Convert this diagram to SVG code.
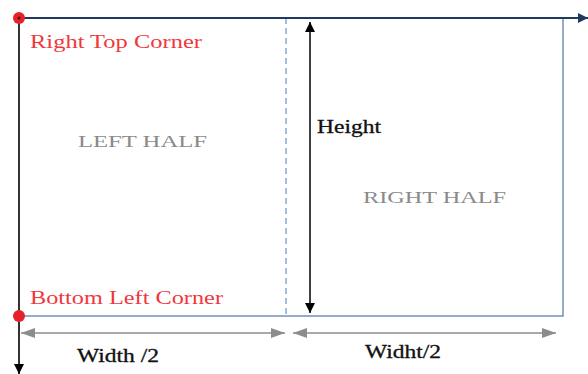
<svg xmlns="http://www.w3.org/2000/svg" width="588" height="374" viewBox="0 0 588 374">
  <defs>
    <marker id="navyHead" viewBox="0 0 10 10" refX="10" refY="5" markerWidth="10" markerHeight="10" markerUnits="userSpaceOnUse" orient="auto">
      <path d="M0,0 L10,5 L0,10 z" fill="#1f3a5f"/>
    </marker>
    <marker id="blackHead" viewBox="0 0 10 10" refX="10" refY="5" markerWidth="10" markerHeight="10" markerUnits="userSpaceOnUse" orient="auto-start-reverse">
      <path d="M0,0 L10,5 L0,10 z" fill="#000"/>
    </marker>
    <marker id="grayHead" viewBox="0 0 14 10" refX="14" refY="5" markerWidth="14" markerHeight="10" markerUnits="userSpaceOnUse" orient="auto-start-reverse">
      <path d="M0,0 L14,5 L0,10 z" fill="#8c8c8c"/>
    </marker>
  </defs>
  <style>
    .red { fill: #f0383c; font-size: 18px; }
    .half { fill: #8a8a8a; font-size: 16px; }
    .dim { fill: #111; font-size: 18px; stroke: #111; stroke-width: 0.3; }
  </style>

  <rect width="588" height="374" fill="#fff"/>

  <!-- frame -->
  <g id="frame">
    <rect x="19" y="18" width="544" height="298" fill="none" stroke="#5b7fae" stroke-width="1.3"/>
    <line x1="286" y1="18" x2="286" y2="316" stroke="#6f9bd3" stroke-width="1.3" stroke-dasharray="6,4"/>
  </g>

  <g id="connectors">
    <!-- axes -->
    <line x1="19" y1="18" x2="588" y2="18" stroke="#1f3a5f" stroke-width="2" marker-end="url(#navyHead)"/>
    <line x1="19" y1="18" x2="19" y2="374" stroke="#333" stroke-width="2" marker-end="url(#blackHead)"/>
    <!-- height -->
    <line x1="310" y1="22" x2="310" y2="313" stroke="#000" stroke-width="1.5" marker-start="url(#blackHead)" marker-end="url(#blackHead)"/>
    <!-- half widths -->
    <line x1="21" y1="333" x2="285" y2="333" stroke="#8c8c8c" stroke-width="1.5" marker-start="url(#grayHead)" marker-end="url(#grayHead)"/>
    <line x1="293" y1="333" x2="556" y2="333" stroke="#8c8c8c" stroke-width="1.5" marker-start="url(#grayHead)" marker-end="url(#grayHead)"/>
  </g>

  <g font-family="'Liberation Serif', 'DejaVu Serif', serif">
    <g id="corner-top">
      <circle cx="19" cy="18" r="6" fill="#e8202a"/>
      <circle cx="19" cy="18" r="1.5" fill="#3a1a1a"/>
      <text class="red" x="30" y="48" textLength="172" lengthAdjust="spacingAndGlyphs">Right Top Corner</text>
    </g>

    <g id="corner-bottom">
      <circle cx="19" cy="316" r="6" fill="#e8202a"/>
      <text class="red" x="30" y="304" textLength="193" lengthAdjust="spacingAndGlyphs">Bottom Left Corner</text>
    </g>

    <g id="left-half">
      <text class="half" x="78" y="147" textLength="129" lengthAdjust="spacingAndGlyphs">LEFT HALF</text>
    </g>

    <g id="right-half">
      <text class="half" x="363" y="203" textLength="143" lengthAdjust="spacingAndGlyphs">RIGHT HALF</text>
    </g>

    <g id="height-label">
      <text class="dim" x="317" y="133" textLength="64" lengthAdjust="spacingAndGlyphs">Height</text>
    </g>

    <g id="width-left-label">
      <text class="dim" x="77" y="362" textLength="82" lengthAdjust="spacingAndGlyphs">Width /2</text>
    </g>

    <g id="width-right-label">
      <text class="dim" x="365" y="358" textLength="76" lengthAdjust="spacingAndGlyphs">Widht/2</text>
    </g>
  </g>
</svg>
